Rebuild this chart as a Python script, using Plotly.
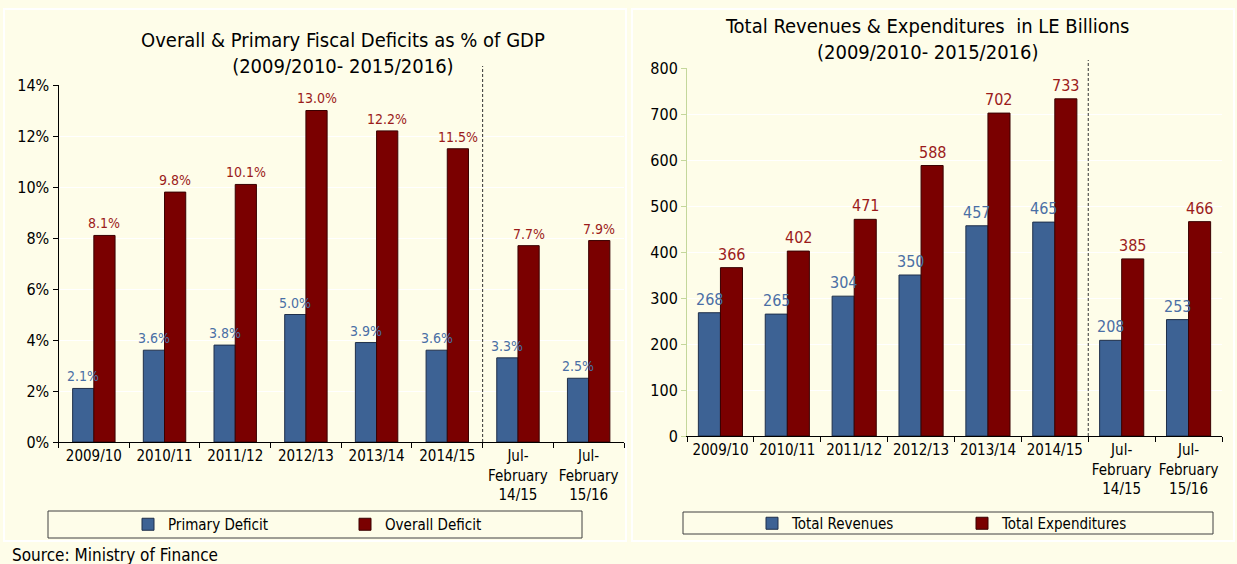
import plotly.graph_objects as go

W, H = 1237, 564

periods = ["2009/10", "2010/11", "2011/12", "2012/13", "2013/14", "2014/15",
           "Jul-<br>February<br>14/15", "Jul-<br>February<br>15/16"]
primary_deficit = [2.1, 3.6, 3.8, 5.0, 3.9, 3.6, 3.3, 2.5]
overall_deficit = [8.1, 9.8, 10.1, 13.0, 12.2, 11.5, 7.7, 7.9]
total_revenues = [268, 265, 304, 350, 457, 465, 208, 253]
total_expenditures = [366, 402, 471, 588, 702, 733, 385, 466]

BLUE = "#3d6294"
RED = "#7a0000"
BLUE_TXT = "#4a6fa5"
RED_TXT = "#9b1b1b"
BG = "#fefde9"
FONT = "Liberation Sans Narrow, DejaVu Sans Condensed, Arial Narrow, sans-serif"


def px(x):
    return x / W


def py(y):
    return 1 - y / H


# bar widths in category units, and pixel width of one category
W_LEFT, CAT_LEFT = 0.30, 70.7
W_RIGHT, CAT_RIGHT = 0.33, 67.0

fig = go.Figure()

fig.add_trace(go.Bar(x=periods, y=[v / 100 for v in primary_deficit], name="Primary Deficit",
                     width=W_LEFT, offset=-W_LEFT,
                     marker=dict(color=BLUE, line=dict(color="#1f2f4a", width=1)),
                     xaxis="x", yaxis="y", legend="legend"))
fig.add_trace(go.Bar(x=periods, y=[v / 100 for v in overall_deficit], name="Overall Deficit",
                     width=W_LEFT, offset=0,
                     marker=dict(color=RED, line=dict(color="#3a0000", width=1)),
                     xaxis="x", yaxis="y", legend="legend"))
fig.add_trace(go.Bar(x=periods, y=total_revenues, name="Total Revenues",
                     width=W_RIGHT, offset=-W_RIGHT,
                     marker=dict(color=BLUE, line=dict(color="#1f2f4a", width=1)),
                     xaxis="x2", yaxis="y2", legend="legend2"))
fig.add_trace(go.Bar(x=periods, y=total_expenditures, name="Total Expenditures",
                     width=W_RIGHT, offset=0,
                     marker=dict(color=RED, line=dict(color="#3a0000", width=1)),
                     xaxis="x2", yaxis="y2", legend="legend2"))

xaxis_common = dict(type="category", showline=True, linecolor="black", linewidth=1,
                    ticks="outside", tickson="boundaries", ticklen=5, tickcolor="black",
                    showgrid=False, tickfont=dict(size=15, color="black"), tickangle=0,
                    automargin=False, fixedrange=True)

fig.update_layout(
    width=W, height=H,
    margin=dict(l=0, r=0, t=0, b=0, autoexpand=False),
    paper_bgcolor=BG, plot_bgcolor=BG,
    font=dict(family=FONT, color="black"),
    barmode="overlay",
    xaxis=dict(domain=[px(58.5), px(624)], anchor="y", **xaxis_common),
    yaxis=dict(domain=[py(442), py(85)], anchor="x", range=[0, 0.14], dtick=0.02,
               tickformat=".0%", showline=True, linecolor="black", ticks="outside",
               ticklen=5, tickcolor="black", gridcolor="#ffffff", gridwidth=1,
               zeroline=False, tickfont=dict(size=16), automargin=False, fixedrange=True),
    xaxis2=dict(domain=[px(687), px(1222)], anchor="y2", **xaxis_common),
    yaxis2=dict(domain=[py(436), py(68)], anchor="x2", range=[0, 800], dtick=100,
                showline=True, linecolor="#c4d79b", ticks="outside", ticklen=5,
                tickcolor="#c4d79b", gridcolor="#ffffff", gridwidth=1, zeroline=False,
                tickfont=dict(size=16), automargin=False, fixedrange=True),
    legend=dict(orientation="h", x=px(128), y=py(524.5), xanchor="left", yanchor="middle",
                bgcolor="rgba(0,0,0,0)", font=dict(size=15), entrywidth=172,
                itemclick=False, itemdoubleclick=False),
    legend2=dict(orientation="h", x=px(752), y=py(523.5), xanchor="left", yanchor="middle",
                 bgcolor="rgba(0,0,0,0)", font=dict(size=15), entrywidth=165,
                 itemclick=False, itemdoubleclick=False),
    showlegend=True,
)

shapes = [
    dict(type="rect", xref="paper", yref="paper", x0=px(4), x1=px(626), y0=py(541), y1=py(9),
         line=dict(color="#ffffff", width=2), layer="below"),
    dict(type="rect", xref="paper", yref="paper", x0=px(632), x1=px(1234), y0=py(541), y1=py(9),
         line=dict(color="#ffffff", width=2), layer="below"),
    dict(type="rect", xref="paper", yref="paper", x0=px(48), x1=px(582), y0=py(538), y1=py(511),
         line=dict(color="#404040", width=1), fillcolor="rgba(0,0,0,0)"),
    dict(type="rect", xref="paper", yref="paper", x0=px(683), x1=px(1213), y0=py(534), y1=py(512),
         line=dict(color="#404040", width=1), fillcolor="rgba(0,0,0,0)"),
    dict(type="line", xref="x", yref="paper", x0=5.5, x1=5.5, y0=py(442), y1=py(66),
         line=dict(color="#333333", width=1, dash="3px,2px")),
    dict(type="line", xref="x2", yref="paper", x0=5.5, x1=5.5, y0=py(436), y1=py(60),
         line=dict(color="#333333", width=1, dash="3px,2px")),
]
fig.update_layout(shapes=shapes)

annotations = [
    dict(text="Overall & Primary Fiscal Deficits as % of GDP<br>(2009/2010- 2015/2016)",
         x=px(343), y=py(53), xref="paper", yref="paper", xanchor="center", yanchor="middle",
         showarrow=False, font=dict(size=20, color="black")),
    dict(text="Total Revenues & Expenditures  in LE Billions<br>(2009/2010- 2015/2016)",
         x=px(927), y=py(38.5), xref="paper", yref="paper", xanchor="center", yanchor="middle",
         showarrow=False, font=dict(size=20, color="black")),
    dict(text="Source: Ministry of Finance", x=px(10), y=py(555), xref="paper", yref="paper",
         xanchor="left", yanchor="middle", showarrow=False, font=dict(size=17, color="black")),
]

# value labels above each bar
for cat, pd_v, od_v in zip(periods, primary_deficit, overall_deficit):
    annotations.append(dict(x=cat, y=pd_v / 100, xref="x", yref="y", text=f"{pd_v:.1f}%",
                            xshift=-W_LEFT * CAT_LEFT / 2, yshift=2, yanchor="bottom",
                            showarrow=False, font=dict(size=14, color=BLUE_TXT)))
    annotations.append(dict(x=cat, y=od_v / 100, xref="x", yref="y", text=f"{od_v:.1f}%",
                            xshift=W_LEFT * CAT_LEFT / 2, yshift=2, yanchor="bottom",
                            showarrow=False, font=dict(size=14, color=RED_TXT)))
for cat, rv, ex in zip(periods, total_revenues, total_expenditures):
    annotations.append(dict(x=cat, y=rv, xref="x2", yref="y2", text=str(rv),
                            xshift=-W_RIGHT * CAT_RIGHT / 2, yshift=2, yanchor="bottom",
                            showarrow=False, font=dict(size=16, color=BLUE_TXT)))
    annotations.append(dict(x=cat, y=ex, xref="x2", yref="y2", text=str(ex),
                            xshift=W_RIGHT * CAT_RIGHT / 2, yshift=2, yanchor="bottom",
                            showarrow=False, font=dict(size=16, color=RED_TXT)))

fig.update_layout(annotations=annotations)

fig.write_html("out.html", config={"displayModeBar": False},
               post_script="document.body.style.margin='0';")
